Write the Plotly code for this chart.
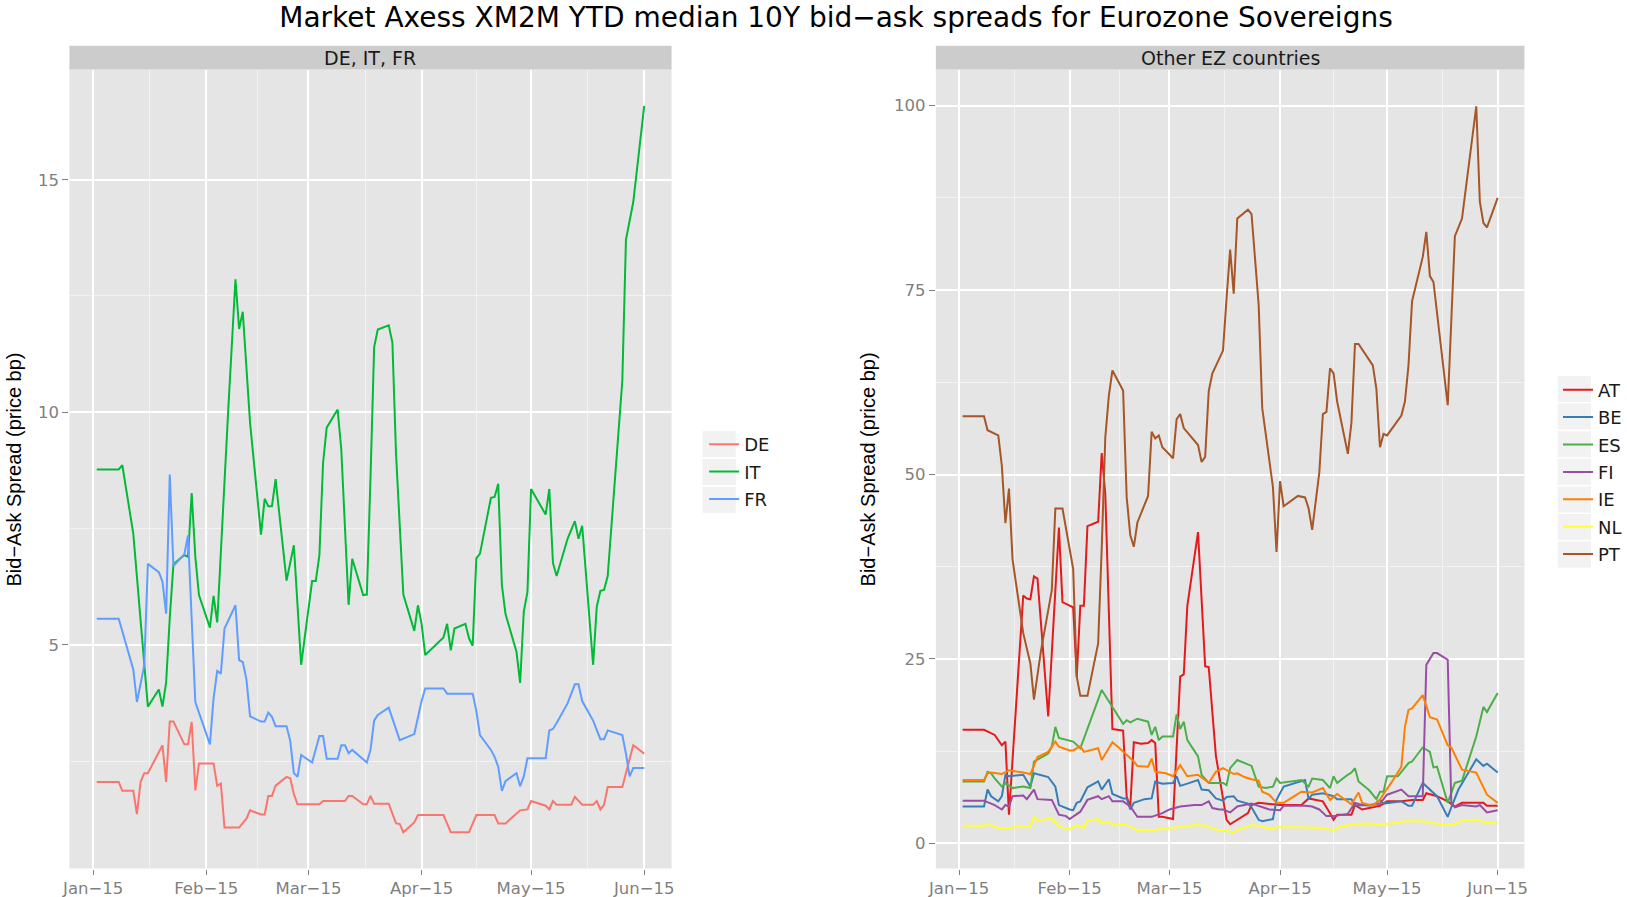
import pandas as pd
import plotly.graph_objects as go

# day offsets from 2015-01-01 and median bid-ask spread (price bp)
de_days = [1, 7, 8, 11, 12, 13, 14, 15, 19, 20, 21, 22, 25, 26, 27, 28, 29, 33, 34, 35, 36, 40, 42, 43, 46, 47, 48, 49, 50, 53,
           54, 55, 56, 62, 63, 69, 70, 71, 74, 75, 76, 77, 81, 83, 84, 85, 88, 89, 96, 98, 103, 105, 110, 111, 113, 117, 119,
           120, 124, 125, 126, 127, 131, 132, 134, 137, 138, 139, 140, 141, 145, 148, 151]
de_vals = [2.05, 2.05, 1.86, 1.86, 1.36, 2.05, 2.24, 2.24, 2.84, 2.05, 3.35, 3.35, 2.86, 2.86, 3.34, 1.87, 2.45, 2.45, 1.97,
           2.02, 1.07, 1.07, 1.26, 1.44, 1.35, 1.35, 1.75, 1.75, 1.97, 2.16, 2.13, 1.79, 1.57, 1.57, 1.64, 1.64, 1.75, 1.75,
           1.57, 1.57, 1.75, 1.58, 1.58, 1.16, 1.15, 0.97, 1.18, 1.34, 1.34, 0.97, 0.97, 1.34, 1.34, 1.16, 1.16, 1.44, 1.46,
           1.64, 1.54, 1.46, 1.64, 1.56, 1.56, 1.73, 1.56, 1.56, 1.64, 1.46, 1.56, 1.94, 1.94, 2.84, 2.66]

it_days = [1, 7, 8, 11, 15, 18, 19, 20, 21, 22, 25, 26, 27, 28, 29, 32, 33, 34, 37, 39, 40, 41, 43, 46, 47, 48, 49, 50, 53,
           55, 57, 60, 61, 62, 63, 64, 67, 68, 70, 71, 74, 75, 76, 77, 78, 81, 82, 83, 85, 88, 89, 90, 91, 96, 97, 98, 99,
           102, 103, 104, 105, 106, 109, 110, 111, 112, 113, 116, 117, 118, 119, 120, 124, 125, 126, 127, 130, 132, 133,
           134, 137, 138, 139, 140, 141, 145, 146, 148, 151]
it_vals = [8.77, 8.77, 8.86, 7.39, 3.67, 4.04, 3.67, 4.19, 5.58, 6.73, 6.93, 6.89, 8.26, 6.89, 6.07, 5.37, 6.05, 5.48, 10.02,
           12.86, 11.79, 12.16, 9.77, 7.37, 8.14, 7.98, 7.98, 8.56, 6.38, 7.14, 4.57, 6.37, 6.37, 6.93, 8.91, 9.67, 10.06,
           9.2, 5.86, 6.85, 6.07, 6.08, 8.58, 11.4, 11.78, 11.87, 11.5, 9.1, 6.08, 5.3, 5.85, 5.45, 4.78, 5.16, 5.45, 4.88,
           5.35, 5.45, 5.14, 4.98, 6.86, 6.96, 8.16, 8.18, 8.46, 6.29, 5.66, 4.85, 4.18, 5.71, 6.13, 8.35, 7.8, 8.35, 6.76,
           6.48, 7.28, 7.66, 7.28, 7.56, 4.57, 5.82, 6.16, 6.18, 6.48, 10.67, 13.71, 14.52, 16.59]

fr_days = [1, 7, 8, 11, 12, 14, 15, 18, 19, 20, 21, 22, 25, 26, 28, 32, 33, 34, 35, 36, 39, 40, 41, 42, 43, 46, 47, 48, 49,
           50, 53, 54, 55, 56, 57, 60, 62, 63, 64, 67, 68, 69, 70, 71, 75, 76, 77, 78, 81, 83, 84, 88, 90, 91, 96, 97, 104,
           105, 106, 109, 110, 111, 112, 113, 116, 117, 118, 119, 124, 125, 126, 127, 130, 132, 133, 134, 137, 139, 140,
           141, 145, 146, 147, 148, 151]
fr_vals = [5.56, 5.56, 5.29, 4.47, 3.77, 4.55, 6.74, 6.56, 6.36, 5.67, 8.66, 6.69, 6.95, 7.35, 3.77, 2.86, 3.85, 4.44, 4.38,
           5.35, 5.85, 4.67, 4.63, 4.26, 3.46, 3.35, 3.35, 3.54, 3.45, 3.25, 3.25, 2.94, 2.24, 2.16, 2.63, 2.47, 3.04, 3.04,
           2.55, 2.55, 2.84, 2.84, 2.67, 2.74, 2.47, 2.74, 3.37, 3.49, 3.65, 3.16, 2.95, 3.08, 3.79, 4.06, 4.06, 3.95, 3.95,
           3.58, 3.06, 2.74, 2.59, 2.38, 1.86, 2.07, 2.24, 1.96, 2.17, 2.56, 2.56, 3.16, 3.19, 3.32, 3.74, 4.15, 4.15, 3.79,
           3.37, 2.97, 2.97, 3.16, 3.06, 2.66, 2.17, 2.35, 2.35]

at_days = [1, 7, 10, 11, 12, 13, 14, 18, 19, 20, 21, 22, 25, 28, 29, 32, 33, 34, 35, 36, 39, 40, 41, 43, 46, 47, 48, 49, 51,
           53, 54, 55, 56, 57, 60, 62, 63, 64, 67, 69, 70, 72, 74, 75, 76, 81, 82, 84, 90, 96, 98, 102, 104, 105, 106, 110,
           111, 113, 118, 120, 124, 127, 130, 131, 134, 137, 139, 141, 147, 148, 151]
at_vals = [15.4, 15.4, 14.7, 14.0, 13.3, 13.8, 3.9, 33.6, 33.2, 33.1, 36.2, 35.9, 17.2, 42.8, 32.7, 32.0, 22.6, 32.2, 32.2,
           43.0, 43.6, 52.9, 47.4, 15.5, 15.3, 6.3, 5.0, 13.7, 13.5, 13.6, 14.0, 13.6, 3.6, 3.6, 3.3, 22.6, 22.9, 32.2, 42.2,
           24.0, 23.9, 11.9, 6.3, 3.2, 2.6, 4.1, 5.2, 5.5, 5.2, 5.2, 6.1, 5.7, 4.1, 3.2, 3.9, 3.9, 5.2, 4.6, 5.1, 5.7, 5.7,
           5.9, 5.9, 6.8, 6.4, 5.7, 5.0, 5.5, 5.5, 5.1, 5.1]

be_days = [1, 7, 8, 9, 11, 12, 13, 14, 18, 20, 21, 25, 27, 28, 31, 32, 33, 34, 36, 39, 40, 42, 43, 46, 47, 48, 49, 52, 54,
           55, 57, 60, 61, 62, 64, 67, 68, 70, 72, 74, 75, 77, 78, 81, 82, 84, 85, 88, 89, 91, 97, 98, 99, 102, 105, 106,
           110, 111, 113, 116, 118, 119, 124, 126, 127, 130, 134, 137, 138, 140, 145, 147, 148, 151]
be_vals = [5.0, 5.0, 7.3, 6.4, 5.7, 6.4, 9.3, 9.1, 9.3, 7.7, 9.5, 9.0, 7.7, 5.2, 4.6, 4.5, 5.5, 5.7, 7.6, 8.4, 7.3, 8.7, 6.7,
           6.1, 6.1, 4.6, 5.5, 6.0, 6.1, 8.4, 8.1, 8.2, 9.1, 7.8, 8.1, 8.6, 7.3, 7.2, 6.1, 5.8, 6.3, 6.4, 5.8, 5.4, 4.9, 3.2,
           3.0, 3.3, 5.9, 7.7, 8.6, 6.0, 6.6, 6.8, 6.4, 6.0, 6.0, 5.1, 5.2, 5.1, 5.9, 5.4, 5.7, 5.1, 5.1, 8.2, 6.4, 3.6, 4.9,
           7.3, 11.4, 10.5, 10.8, 9.6]

es_days = [1, 7, 8, 9, 10, 12, 13, 15, 18, 20, 21, 25, 26, 27, 28, 31, 32, 34, 37, 40, 43, 46, 47, 48, 50, 53, 54, 55, 56,
           57, 60, 61, 62, 63, 64, 67, 68, 70, 71, 74, 75, 76, 78, 82, 84, 86, 88, 89, 90, 96, 98, 99, 102, 104, 105, 106,
           109, 110, 111, 112, 115, 117, 118, 119, 120, 123, 126, 127, 130, 132, 133, 134, 137, 139, 141, 145, 147, 148, 151]
es_vals = [8.4, 8.4, 9.7, 9.5, 8.8, 7.7, 8.2, 7.5, 7.7, 7.5, 11.1, 12.2, 13.1, 15.8, 14.3, 14.0, 13.8, 12.9, 16.9, 20.8, 18.5,
           16.2, 16.7, 16.4, 16.9, 16.5, 14.7, 15.8, 14.0, 14.5, 14.5, 17.5, 15.5, 16.5, 14.0, 11.8, 9.3, 8.2, 8.2, 8.2, 7.9,
           10.2, 11.3, 10.5, 7.7, 7.5, 7.7, 8.8, 8.2, 8.6, 7.7, 8.8, 8.6, 7.5, 9.1, 8.2, 9.3, 9.6, 10.2, 8.4, 7.2, 6.0, 7.0,
           7.0, 9.1, 9.1, 10.9, 11.1, 13.0, 12.4, 10.3, 10.4, 5.5, 8.2, 8.5, 14.5, 18.5, 17.8, 20.4]

fi_days = [1, 7, 10, 12, 13, 14, 15, 18, 19, 21, 22, 26, 28, 30, 31, 34, 36, 39, 40, 42, 43, 46, 48, 50, 54, 57, 59, 62, 66,
           68, 70, 71, 73, 74, 76, 78, 82, 84, 87, 90, 91, 97, 99, 101, 103, 105, 109, 111, 113, 115, 118, 120, 124, 126,
           130, 131, 133, 134, 137, 138, 139, 141, 145, 146, 148, 151]
fi_vals = [5.8, 5.8, 5.2, 4.6, 5.2, 5.0, 6.4, 6.5, 6.0, 7.3, 6.0, 5.9, 3.9, 3.7, 3.3, 4.3, 5.9, 6.4, 6.0, 6.4, 5.7, 5.7, 5.0,
           3.6, 3.6, 4.1, 4.6, 5.0, 5.2, 5.2, 5.7, 4.8, 4.6, 4.6, 4.2, 5.0, 5.4, 5.1, 4.6, 4.5, 5.1, 5.1, 5.0, 4.6, 3.7, 3.7,
           4.0, 5.5, 5.2, 5.2, 5.4, 6.6, 7.3, 6.4, 6.4, 24.2, 25.8, 25.8, 24.9, 5.5, 4.9, 5.2, 5.0, 5.2, 4.2, 4.5]

ie_days = [1, 7, 8, 9, 12, 14, 18, 20, 22, 25, 27, 28, 31, 32, 34, 35, 39, 40, 43, 45, 49, 50, 53, 54, 55, 58, 60, 62, 64,
           67, 70, 72, 74, 77, 78, 80, 82, 84, 85, 87, 89, 91, 94, 96, 99, 102, 104, 106, 110, 112, 113, 116, 118, 119, 121,
           124, 125, 126, 127, 130, 132, 134, 137, 138, 141, 145, 148, 151]
ie_vals = [8.6, 8.6, 9.5, 9.6, 9.4, 9.9, 9.6, 9.4, 11.7, 12.4, 13.8, 13.1, 12.6, 12.6, 13.2, 12.4, 12.9, 11.3, 13.7, 12.9,
           11.1, 10.5, 10.4, 11.5, 9.7, 9.5, 9.1, 10.6, 9.1, 9.3, 8.2, 9.7, 10.2, 9.4, 9.5, 9.0, 8.7, 8.5, 7.0, 6.6, 5.5, 5.5,
           6.4, 7.0, 6.9, 7.5, 5.9, 6.7, 5.3, 6.9, 5.5, 5.1, 5.9, 6.7, 8.1, 10.4, 15.8, 18.1, 18.3, 20.1, 17.1, 16.8, 13.3,
           13.0, 10.0, 9.6, 6.6, 5.5]

nl_days = [1, 7, 8, 9, 11, 14, 17, 20, 21, 22, 26, 28, 30, 31, 33, 35, 36, 39, 40, 42, 43, 47, 50, 54, 59, 64, 66, 69, 73,
           74, 77, 78, 82, 84, 88, 89, 95, 102, 105, 107, 111, 115, 118, 121, 125, 130, 136, 139, 141, 145, 148, 151]
nl_vals = [2.4, 2.4, 2.7, 2.5, 2.1, 2.1, 2.3, 2.2, 3.6, 3.1, 3.4, 2.3, 2.1, 1.9, 2.5, 2.1, 3.1, 3.3, 2.7, 3.0, 2.5, 2.5, 1.8,
           1.8, 2.1, 2.3, 2.5, 2.4, 1.8, 1.8, 1.5, 1.8, 2.5, 2.4, 1.9, 2.2, 2.2, 2.1, 1.8, 2.3, 2.6, 2.7, 2.6, 2.7, 3.0, 3.0,
           2.5, 2.6, 3.1, 3.2, 2.8, 2.8]

pt_days = [1, 7, 8, 11, 12, 13, 14, 15, 18, 20, 21, 23, 26, 27, 29, 32, 33, 34, 36, 39, 40, 41, 42, 43, 46, 47, 48, 49, 50,
           53, 54, 55, 56, 57, 60, 61, 62, 63, 67, 68, 69, 70, 71, 74, 75, 76, 77, 78, 81, 82, 84, 85, 88, 89, 90, 91, 95,
           97, 98, 99, 101, 102, 103, 104, 105, 106, 109, 110, 111, 112, 116, 117, 118, 119, 120, 124, 125, 126, 127, 130,
           131, 132, 133, 137, 139, 141, 145, 146, 147, 148, 151]
pt_vals = [57.9, 57.9, 56.0, 55.3, 51.2, 43.4, 48.1, 38.5, 28.5, 24.4, 19.5, 26.2, 34.3, 45.4, 45.4, 37.2, 22.6, 20.0, 20.0,
           27.1, 40.0, 55.0, 60.7, 64.1, 61.4, 46.9, 41.8, 40.2, 43.5, 47.1, 55.8, 54.9, 55.3, 53.7, 52.2, 57.5, 58.2, 56.3,
           54.0, 51.7, 52.4, 61.3, 63.7, 66.8, 73.9, 80.5, 74.5, 84.7, 85.9, 85.3, 73.0, 59.0, 48.3, 39.5, 49.1, 45.7, 47.1,
           46.9, 45.4, 42.5, 50.3, 58.2, 58.5, 64.4, 63.7, 59.9, 52.8, 57.0, 67.7, 67.7, 64.8, 61.6, 53.7, 55.5, 55.3, 58.0,
           59.9, 64.8, 73.5, 79.5, 82.9, 76.9, 76.1, 59.4, 82.3, 84.7, 99.9, 87.0, 84.1, 83.5, 87.5]

month_starts = ["2015-01-01", "2015-02-01", "2015-03-01", "2015-04-01", "2015-05-01", "2015-06-01"]
month_labels = ["Jan\u221215", "Feb\u221215", "Mar\u221215", "Apr\u221215", "May\u221215", "Jun\u221215"]

big3 = [("DE", de_days, de_vals, "#F8766D"),
        ("IT", it_days, it_vals, "#00BA38"),
        ("FR", fr_days, fr_vals, "#619CFF")]
others = [("AT", at_days, at_vals, "#E41A1C"),
          ("BE", be_days, be_vals, "#377EB8"),
          ("ES", es_days, es_vals, "#4DAF4A"),
          ("FI", fi_days, fi_vals, "#984EA3"),
          ("IE", ie_days, ie_vals, "#FF7F00"),
          ("NL", nl_days, nl_vals, "#FFFF33"),
          ("PT", pt_days, pt_vals, "#A65628")]

W, H = 1627, 897
base = pd.Timestamp("2015-01-01")


def to_dates(days):
    return base + pd.to_timedelta(days, unit="D")


fig = go.Figure()
for name, days, vals, col in big3:
    fig.add_trace(go.Scatter(x=to_dates(days), y=vals, name=name, mode="lines",
                             line=dict(color=col, width=2), xaxis="x", yaxis="y",
                             legend="legend", legendgroup=name))
for name, days, vals, col in others:
    fig.add_trace(go.Scatter(x=to_dates(days), y=vals, name=name, mode="lines",
                             line=dict(color=col, width=2), xaxis="x2", yaxis="y2",
                             legend="legend2", legendgroup=name))

ms = pd.to_datetime(month_starts)
minor_x = list(ms[:-1] + (ms[1:] - ms[:-1]) / 2)
x_range = [base - pd.Timedelta(days=6.5), base + pd.Timedelta(days=158.5)]

tick_font = dict(family="DejaVu Sans", size=16.5, color="#7F7F7F")
xcommon = dict(type="date", range=x_range, tickmode="array", tickvals=month_starts, ticktext=month_labels,
               showgrid=True, gridcolor="white", gridwidth=1.8, zeroline=False, showline=False,
               ticks="outside", ticklen=5, tickwidth=1.3, tickcolor="#7F7F7F", tickfont=tick_font,
               minor=dict(tickmode="array", tickvals=minor_x, showgrid=True, gridcolor="#F2F2F2",
                          gridwidth=1, ticks=""),
               automargin=False)
ycommon = dict(showgrid=True, gridcolor="white", gridwidth=1.8, zeroline=False, showline=False,
               ticks="outside", ticklen=6, tickwidth=1.3, tickcolor="#7F7F7F", tickfont=tick_font,
               automargin=False, domain=[1 - 868.5 / H, 1 - 69.5 / H])

left_dom = [69.5 / W, 672.4 / W]
right_dom = [937 / W, 1526.3 / W]

fig.update_layout(
    width=W, height=H,
    margin=dict(l=0, r=0, t=0, b=0),
    paper_bgcolor="white", plot_bgcolor="#E5E5E5",
    font=dict(family="DejaVu Sans", color="#1A1A1A"),
    title=dict(text="Market Axess XM2M YTD median 10Y bid\u2212ask spreads for Eurozone Sovereigns",
               x=836 / W, xanchor="center", y=1 - 17.5 / H, yanchor="middle",
               font=dict(family="DejaVu Sans", size=28, color="black")),
    xaxis=dict(xcommon, domain=left_dom, anchor="y"),
    yaxis=dict(ycommon, range=[0.19, 17.37], tickvals=[5, 10, 15],
               minor=dict(tickmode="array", tickvals=[2.5, 7.5, 12.5], showgrid=True,
                          gridcolor="#F2F2F2", gridwidth=1, ticks=""), anchor="x"),
    xaxis2=dict(xcommon, domain=right_dom, anchor="y2"),
    yaxis2=dict(ycommon, range=[-3.4, 104.9], tickvals=[0, 25, 50, 75, 100],
                minor=dict(tickmode="array", tickvals=[12.5, 37.5, 62.5, 87.5], showgrid=True,
                           gridcolor="#F2F2F2", gridwidth=1, ticks=""), anchor="x2"),
    legend=dict(x=705 / W, xanchor="left", y=1 - 472 / H, yanchor="middle",
                bgcolor="rgba(0,0,0,0)", font=dict(family="DejaVu Sans", size=18, color="#1A1A1A"),
                tracegroupgap=1, itemclick=False),
    legend2=dict(x=1560 / W, xanchor="left", y=1 - 472 / H, yanchor="middle",
                 bgcolor="rgba(0,0,0,0)", font=dict(family="DejaVu Sans", size=18, color="#1A1A1A"),
                 tracegroupgap=1, itemclick=False),
    showlegend=True,
)

# facet strips
strip_y = [1 - 69.5 / H, 1 - 45.7 / H]
for dom, label in [(left_dom, "DE, IT, FR"), (right_dom, "Other EZ countries")]:
    fig.add_shape(type="rect", xref="paper", yref="paper", x0=dom[0], x1=dom[1], y0=strip_y[0], y1=strip_y[1],
                  fillcolor="#CCCCCC", line=dict(width=0), layer="below")
    fig.add_annotation(text=label, xref="paper", yref="paper", x=(dom[0] + dom[1]) / 2, y=sum(strip_y) / 2,
                       showarrow=False, font=dict(family="DejaVu Sans", size=19, color="#1A1A1A"),
                       xanchor="center", yanchor="middle")

# y axis titles
for xpos in [14.5 / W, 869.5 / W]:
    fig.add_annotation(text="Bid\u2212Ask Spread (price bp)", xref="paper", yref="paper", x=xpos, y=1 - 469 / H,
                       textangle=-90, showarrow=False, xanchor="center", yanchor="middle",
                       font=dict(family="Liberation Sans", size=20, color="black"))

# grey legend key boxes
for i in range(3):
    yc = 444 + 28 * i
    fig.add_shape(type="rect", xref="paper", yref="paper", x0=703.5 / W, x1=736.7 / W,
                  y0=1 - (yc + 13) / H, y1=1 - (yc - 13) / H, fillcolor="#F2F2F2", line=dict(width=0))
for i in range(7):
    yc = 389 + 27.6 * i
    fig.add_shape(type="rect", xref="paper", yref="paper", x0=1559.5 / W, x1=1593 / W,
                  y0=1 - (yc + 13) / H, y1=1 - (yc - 13) / H, fillcolor="#F2F2F2", line=dict(width=0))

fig.write_html("out.html", config={"displayModeBar": False},
               post_script="document.body.style.margin='0px';document.body.style.overflow='hidden';")
